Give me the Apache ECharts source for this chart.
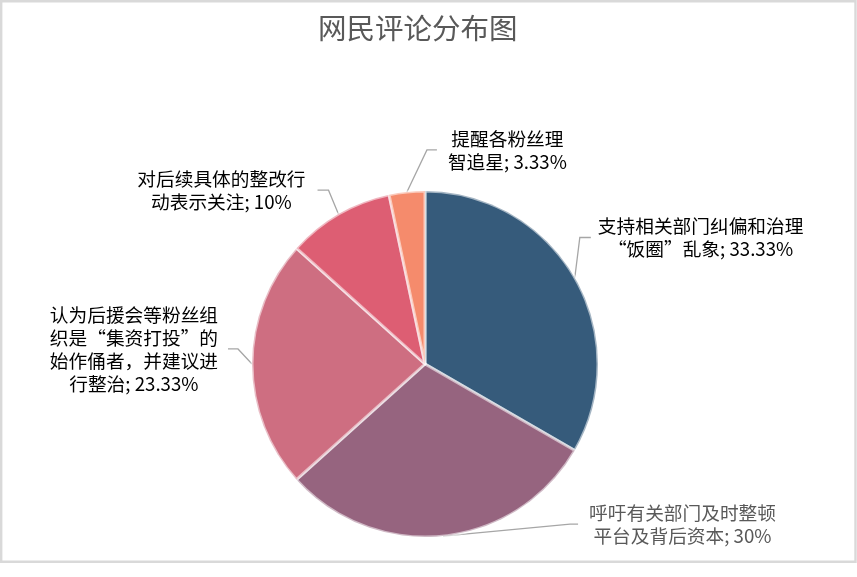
<!DOCTYPE html>
<html>
<head>
<meta charset="utf-8">
<script src="https://cdn.jsdelivr.net/npm/echarts@6/dist/echarts.min.js"></script>
<style>
html,body{margin:0;padding:0;background:#fff;}
#chart{width:857px;height:577px;}
</style>
</head>
<body>
<div id="chart"></div>
<script>
// ---- data ----
var titleText = '网民评论分布图';
var categories = [
  '支持相关部门纠偏和治理“饭圈”乱象',
  '呼吁有关部门及时整顿平台及背后资本',
  '认为后援会等粉丝组织是“集资打投”的始作俑者，并建议进行整治',
  '对后续具体的整改行动表示关注',
  '提醒各粉丝理智追星'
];
var values = [33.33, 30, 23.33, 10, 3.33];
var labelTexts = [
  '支持相关部门纠偏和治理\n“饭圈”乱象',
  '呼吁有关部门及时整顿\n平台及背后资本',
  '认为后援会等粉丝组\n织是“集资打投”的\n始作俑者，并建议进\n行整治',
  '对后续具体的整改行\n动表示关注',
  '提醒各粉丝理\n智追星'
];

// ---- styles ----
var colors = ['#365b7b', '#96647f', '#ce6e81', '#dd5e73', '#f58b6c'];
var labelColors = ['#000000', '#595959', '#000000', '#000000', '#000000'];
// leader line offsets relative to the slice edge point (style only)
var leader = [
  {ex: 5,   ey: -40, h: 11,  gap: 7},
  {ex: 127, ey: -12, h: 8,   gap: 11},
  {ex: -14, ey: -15, h: -10, gap: 10},
  {ex: -10, ey: -24, h: -11, gap: 12},
  {ex: 20,  ey: -42, h: 10,  gap: 11}
];
var FONT = '"Noto Sans CJK SC", "Microsoft YaHei", sans-serif';

var chart = echarts.init(document.getElementById('chart'));
var seriesData = categories.map(function (c, i) {
  return {
    name: c,
    value: values[i],
    itemStyle: {color: colors[i]},
    label: {rich: {c: {align: 'center', color: labelColors[i], fontSize: 18.7, lineHeight: 23, fontFamily: FONT}}}
  };
});

chart.setOption({
  animation: false,
  backgroundColor: '#ffffff',
  title: {
    text: titleText,
    left: 313,
    top: 9,
    textStyle: {fontFamily: FONT, fontSize: 28.5, fontWeight: 'normal', color: '#595959'}
  },
  graphic: [{
    type: 'rect',
    shape: {x: 1.2, y: 1.2, width: 854.3, height: 560.5},
    style: {fill: 'none', stroke: '#d9d9d9', lineWidth: 2.4},
    silent: true
  }],
  series: [{
    type: 'pie',
    center: [425, 364],
    radius: 173,
    startAngle: 90,
    clockwise: true,
    data: seriesData,
    itemStyle: {borderColor: 'rgba(255,255,255,0.55)', borderWidth: 3},
    label: {
      show: true,
      position: 'outside',
      fontFamily: FONT,
      fontSize: 18.7,
      lineHeight: 23,
      formatter: function (p) {
        return '{c|' + labelTexts[p.dataIndex] + '; ' + values[p.dataIndex] + '%}';
      }
    },
    labelLine: {show: true, length: 15, length2: 15, lineStyle: {color: '#a6a6a6', width: 1.3}},
    labelLayout: function (params) {
      var o = leader[params.dataIndex];
      var p0 = params.labelLinePoints ? params.labelLinePoints[0] : null;
      if (!p0) return {};
      var elbow = [p0[0] + o.ex, p0[1] + o.ey];
      var end = [elbow[0] + o.h, elbow[1]];
      var right = o.h > 0;
      return {
        x: end[0] + (right ? o.gap : -o.gap),
        y: end[1],
        align: right ? 'left' : 'right',
        verticalAlign: 'middle',
        labelLinePoints: [p0, elbow, end]
      };
    }
  }]
});
</script>
</body>
</html>
